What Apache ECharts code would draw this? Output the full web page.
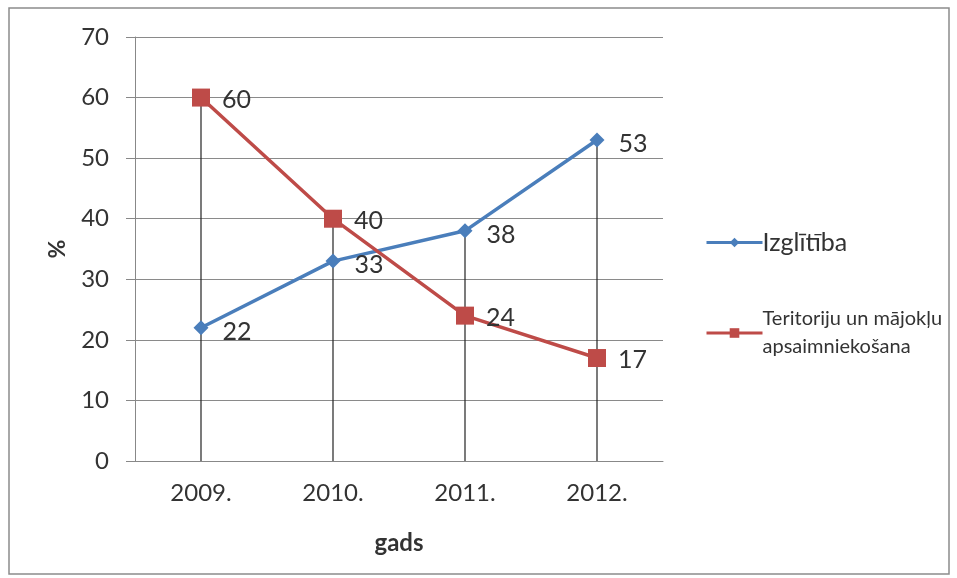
<!DOCTYPE html>
<html><head><meta charset="utf-8">
<script src="https://cdn.jsdelivr.net/npm/echarts@6/dist/echarts.min.js"></script>
<style>html,body{margin:0;padding:0;background:#fff}#c{width:957px;height:578px}</style>
</head><body><div id="c"></div>
<script>
const categories = ['2009.', '2010.', '2011.', '2012.'];
const izglitiba = [22, 33, 38, 53];
const teritoriju = [60, 40, 24, 17];
const yTicks = {min: 0, max: 70, interval: 10};
const seriesNames = ['Izglītība', 'Teritoriju un mājokļu apsaimniekošana'];

const dropLines = categories.map((c, i) => Math.max(izglitiba[i], teritoriju[i]));
const font = 'Lato, "Open Sans", sans-serif';
const chart = echarts.init(document.getElementById('c'));
chart.setOption({
  animation: false,
  textStyle: {fontFamily: font},
  graphic: [{type: 'rect', shape: {x: 9, y: 8, width: 940, height: 566},
    style: {fill: 'none', stroke: '#8c8c8c', lineWidth: 1.5}, z: -1}],
  grid: {left: 135, right: 294, top: 37, bottom: 117},
  legend: {
    orient: 'vertical', left: 700, top: 225, itemGap: 54, itemWidth: 56, itemHeight: 12,
    data: seriesNames,
    lineStyle: {width: 3},
    formatter: n => n === seriesNames[0] ? '{a|' + n + '}' : '{b|Teritoriju un mājokļu}\n{b|apsaimniekošana}',
    textStyle: {padding: [0, 0, 0, -5], rich: {
      a: {fontSize: 25, color: '#333', fontFamily: font},
      b: {fontSize: 20, color: '#333', lineHeight: 28, fontFamily: font}}}
  },
  xAxis: {
    type: 'category', data: categories, boundaryGap: true,
    name: 'gads', nameLocation: 'middle', nameGap: 70,
    nameTextStyle: {fontSize: 24, fontWeight: 'bold', color: '#333'},
    axisLine: {lineStyle: {color: '#888'}}, axisTick: {show: false},
    axisLabel: {fontSize: 24, color: '#333', margin: 20}
  },
  yAxis: {
    type: 'value', min: yTicks.min, max: yTicks.max, interval: yTicks.interval,
    name: '%', nameLocation: 'middle', nameGap: 66, nameRotate: 90,
    nameTextStyle: {fontSize: 23, fontWeight: 'bold', color: '#333'},
    axisLine: {show: true, lineStyle: {color: '#888'}},
    axisTick: {show: true, length: 9, inside: false, lineStyle: {color: '#888'}},
    axisLabel: {fontSize: 24, color: '#333', margin: 26},
    splitLine: {lineStyle: {color: '#8a8a8a', width: 1}}
  },
  series: [
    {type: 'bar', data: dropLines, barWidth: 1.2, itemStyle: {color: '#222'}, silent: true, z: 1, legendHoverLink: false},
    {name: seriesNames[0], type: 'line', data: izglitiba, symbol: 'diamond', symbolSize: 15,
      lineStyle: {color: '#4a7ebb', width: 3.5}, itemStyle: {color: '#4a7ebb'}, z: 3,
      label: {show: true, position: 'right', distance: 14, fontSize: 25, color: '#333', offset: [0, 4]}},
    {name: seriesNames[1], type: 'line', data: teritoriju, symbol: 'rect', symbolSize: 18,
      lineStyle: {color: '#be4b48', width: 3.5}, itemStyle: {color: '#be4b48'}, z: 4,
      label: {show: true, position: 'right', distance: 12, fontSize: 25, color: '#333', offset: [0, 2]}}
  ]
});
</script></body></html>
